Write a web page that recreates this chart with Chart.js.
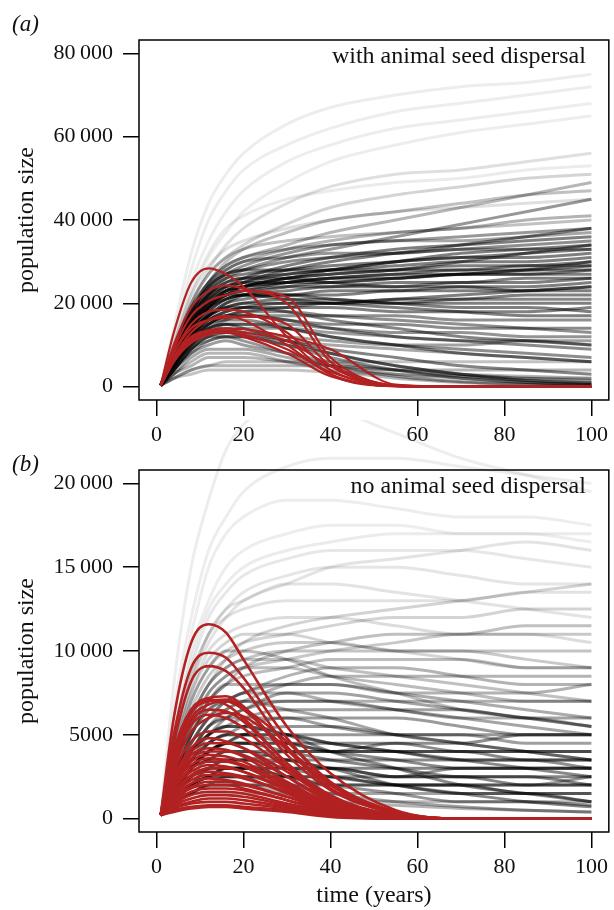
<!DOCTYPE html>
<html lang="en">
<head>
<meta charset="UTF-8">
<title>Population size over time</title>
<script src="https://cdn.jsdelivr.net/npm/chart.js@4.4.0/dist/chart.umd.min.js"></script>
<style>
  body { margin: 0; background: #fff; }
  #wrap { position: relative; width: 614px; height: 910px; }
  canvas { position: absolute; left: 0; }
  #chartA { top: 0; }
  #chartB { top: 420px; }
</style>
</head>
<body>
<div id="wrap">
  <canvas id="chartA" width="614" height="450"></canvas>
  <canvas id="chartB" width="614" height="490"></canvas>
</div>
<script>
// time points (years) shared by every simulated run
const years = [1, 4, 8, 12, 16, 20, 30, 40, 55, 70, 85, 100];

// population size in thousands
// (a) with animal seed dispersal: grey runs that persist / decline
const greyA = [
  [0.3,14,32,44,51,56,63,67,70,72,73,75],
  [0.3,12,28,40,47,52,58,62,66,68,70,72],
  [0.3,11,25,35,42,47,54,58,62,64,66,68],
  [0.3,10,22,31,37,42,49,54,58,61,63,65],
  [0.3,9,20,28,34,38,44,48,51,52,54,56],
  [0.3,10,23,32,38,41,45,47,49,50,52,53],
  [0.3,9,20,27,31,34,39,43,46,48,50,51],
  [0.3,8,18,25,30,33,37,40,42,44,46,47],
  [0.3,9,19,25,28,30,33,35,37,38,40,41],
  [0.3,8,17,23,27,29,32,34,35,36,37,38],
  [0.3,8,18,24,27,28,30,31,32,33,34,35],
  [0.3,7,15,21,24,26,29,31,33,34,35,36],
  [0.3,8,17,22,25,26,27,28,29,30,30,31],
  [0.3,7,15,20,23,24,26,27,28,29,29,30],
  [0.3,7,16,21,23,24,25,26,27,27,28,28],
  [0.3,6,14,19,22,23,25,26,27,28,28,29],
  [0.3,7,15,20,22,23,24,24,25,25,26,26],
  [0.3,6,13,18,21,22,23,24,24,25,25,26],
  [0.3,7,15,19,21,22,22,23,23,24,24,25],
  [0.3,6,13,17,20,21,22,22,23,23,23,24],
  [0.3,8,17,22,24,25,25,25,26,27,28,30],
  [0.3,6,14,19,23,25,28,30,32,34,36,38],
  [0.3,7,16,22,26,28,31,33,36,39,42,45],
  [0.3,8,18,25,29,31,34,37,40,43,46,49],
  [0.3,6,12,16,18,19,20,20,21,21,22,22],
  [0.3,5,11,15,17,18,19,20,20,21,21,21],
  [0.3,6,13,17,19,20,21,21,20,20,20,20],
  [0.3,5,12,16,18,19,19,19,18,18,18,19],
  [0.3,5,10,14,16,17,17,17,17,16,16,16],
  [0.3,6,12,16,17,17,16,15,15,14,14,14],
  [0.3,5,10,13,15,15,15,14,13,13,12,12],
  [0.3,4,9,12,13,14,14,13,12,11,11,10],
  [0.3,6,13,17,19,19,18,16,14,12,11,10],
  [0.3,5,11,14,15,15,14,12,10,9,8,7],
  [0.3,4,8,11,12,12,11,10,9,8,7,6],
  [0.3,5,10,13,14,13,11,9,7,5,4,3],
  [0.3,4,9,12,12,12,10,8,5,3,2,1.5],
  [0.3,4,8,10,11,10,8,6,4,2.5,1.5,1],
  [0.3,3,7,9,9,9,7,5,3,2,1,0.6],
  [0.3,5,11,14,15,14,11,8,5,3,1.5,0.8],
  [0.3,3,6,8,8,8,6,4,2,1,0.5,0.3],
  [0.3,4,9,11,12,11,8,5,2.5,1.2,0.6,0.3],
  [0.3,3,5,7,7,7,6,5,4,3,2.5,2],
  [0.3,2,4,5,6,6,6,6,6,6,6,6],
  [0.3,2,4,5,5,5,5,5,4,4,4,4],
  [0.3,6,14,19,22,24,26,27,28,30,32,34],
  [0.3,7,15,20,23,24,25,26,26,27,27,27],
  [0.3,5,12,17,20,22,24,25,26,27,27,28],
  [0.3,6,13,18,21,22,22,21,20,19,19,18],
  [0.3,7,16,22,25,26,26,25,24,24,23,23],
  [0.3,9,20,27,31,33,35,36,37,38,39,40],
  [0.3,10,22,29,33,35,38,40,42,43,44,45],
  [0.3,2,3,4,4,4,4,3.5,3,2.5,2,2],
  [0.3,6,12,15,16,16,14,12,10,8,7,6],
  [0.3,5,10,13,13,12,10,7,4,2,1,0.5],
  [0.3,8,18,24,27,28,28,28,28,28,29,29],
  [0.3,7,16,21,24,25,27,28,30,31,32,33],
  [0.3,8,17,23,26,27,28,29,30,31,31,32],
  [0.3,6,14,19,22,24,26,28,30,32,33,34],
  [0.3,7,15,20,22,22,21,20,19,18,17,17],
  [0.3,5,11,15,17,17,16,14,12,11,10,9],
  [0.3,6,13,17,19,20,20,20,21,22,23,24],
  [0.3,9,19,25,29,31,33,34,35,35,36,37],
  [0.3,4,9,12,13,13,12,11,10,10,11,11],
  [0.3,5,11,15,17,18,18,17,16,15,14,13],
  [0.3,8,18,24,28,30,31,32,32,33,33,33]
];
// (a) runs that went extinct
const redA = [
  [0.3,13,25,28.4,27,24,12,3,0.1,0,0,0],
  [0.3,10,19,23,24.3,23.5,20,6,0.2,0,0,0],
  [0.3,9,17,20.5,22,23,21.5,7,0.3,0,0,0],
  [0.3,8,14,16,16.5,16.8,15,5,0.2,0,0,0],
  [0.3,7,12,13.5,14,13.8,12,9,0.5,0,0,0],
  [0.3,6,11,13,13.5,13,11,5,0.3,0,0,0],
  [0.3,6,10.5,12.5,13,12.5,9,3.5,0.2,0,0,0],
  [0.3,8,15,18,18.5,18,13,4,0.2,0,0,0],
  [0.3,6.5,11.5,13,13,12,8,2.5,0.1,0,0,0],
  [0.3,7,13,16,17,16,10,3,0.1,0,0,0]
];

// (b) no animal seed dispersal
const greyB = [
  [0.2,8,15,19,22,23.5,25,24.5,23,21.5,20.5,19.5],
  [0.2,6,11,15,17,18,19,19,18.5,18,18,17.5],
  [0.2,5,10,13,15,16,17,17.5,17.5,17,17,16.5],
  [0.2,5,9,12,13.5,14.5,15.5,16,16,16,15.5,15],
  [0.2,4,8,11,12.5,13.5,14.5,15,15,14.5,14,14],
  [0.2,4.5,8.5,11,12,12.5,13,13,13,13,13.5,13.5],
  [0.2,4,7.5,10,11,11.5,12,12,11.5,11,11,10.5],
  [0.2,3.5,7,9,10,10.5,11,11.5,12,12,12.5,12.5],
  [0.2,3.5,6.5,8.5,9.5,10,10.5,10.5,10,10,9.5,9],
  [0.2,3,6,8,9,9.5,10,10,10,10,10,10],
  [0.2,3,5.5,7.5,8.5,9,9,8.5,8,7.5,7,7],
  [0.2,3,5.5,7,8,8.5,9,9.5,9.5,9.5,9,9],
  [0.2,2.5,5,7,8,8,8,8,7.5,7.5,7.5,8],
  [0.2,2.5,5,6.5,7,7.5,7.5,7,6.5,6,6,5.5],
  [0.2,2.5,4.5,6,6.5,7,7,7,7,7,7,7],
  [0.2,2,4,5.5,6,6,6,5.5,5,5,4.5,4.5],
  [0.2,2,4,5,5.5,6,6.5,6.5,6.5,6.5,6,6],
  [0.2,2,3.5,5,5.5,5.5,5,4.5,4,3.5,3.5,3],
  [0.2,2,3.5,4.5,5,5,5,5,5,5,5,5],
  [0.2,1.5,3,4,4.5,4.5,4.5,4,4,4,3.5,3.5],
  [0.2,1.5,3,4,4.5,4.5,4,3.5,3,2.5,2.5,2],
  [0.2,1.5,3,3.5,4,4,4,4,4,4,4,4],
  [0.2,1.5,2.5,3.5,3.5,3.5,3.5,3,3,3,3,3],
  [0.2,1.5,2.5,3,3.5,3.5,3,2.5,2,1.5,1.5,1],
  [0.2,1,2,3,3,3,3,3,2.5,2.5,2.5,2.5],
  [0.2,1,2,2.5,3,3,2.5,2,1.5,1,1,0.8],
  [0.2,1,2,2.5,2.5,2.5,2.5,2.5,2,2,2,2],
  [0.2,1,1.5,2,2,2,2,1.5,1.5,1.5,1.5,1.5],
  [0.2,1,1.5,2,2,2,1.5,1,0.8,0.6,0.5,0.4],
  [0.2,0.8,1.5,1.5,1.5,1.5,1.5,1,1,1,1,1],
  [0.2,3,6,8,9.5,10.5,11.5,12,12.5,13,13.5,14],
  [0.2,2.5,5,7,8,9,10,10.5,11,11,11.5,11.5],
  [0.2,2,4,5.5,6.5,7,8,8.5,8.5,8.5,8.5,8.5],
  [0.2,2,4,5,6,6.5,7.5,7.5,7,6.5,6,5.5],
  [0.2,1.5,3,4.5,5,5.5,6,6,6,5.5,5,5],
  [0.2,1.5,3,4,4.5,5,5.5,5.5,5,4.5,4,3.5],
  [0.2,3.5,7,9,10,10,9.5,8.5,7.5,6.5,6,5.5],
  [0.2,4,7.5,9.5,10.5,11,11,10.5,10,9.5,9,9],
  [0.2,2.5,4.5,6,7,7.5,8,8,7.5,7,6.5,6],
  [0.2,1,2,2.5,3,3,3.5,3.5,3.5,3.5,3.5,3.5],
  [0.2,1,2,2.5,2.5,2.5,2,1.5,1,0.7,0.5,0.4],
  [0.2,0.8,1.5,2,2,2,2,2,2,2,2,2.5],
  [0.2,2,4,5,5.5,5.5,5,4,3,2,1.5,1],
  [0.2,1.5,3,3.5,4,4,3.5,3,2,1.5,1,0.7],
  [0.2,5,9.5,12.5,14,15,16,16.5,17,17,17,17],
  [0.2,4.5,8.5,11,12.5,13,14,14,13.5,13,12.5,12],
  [0.2,6.5,12,16,18,19.5,21,21.5,21.5,21,20.5,20],
  [0.2,3,6,8,9,9.5,9.5,9,8.5,8,7.5,7],
  [0.2,1.5,3,4,4.5,4.5,4.5,4.5,4.5,4,4,4],
  [0.2,1,2,2.5,3,3,3,3,2.5,2.5,2,2],
  [0.2,2,4,5.5,6,6.5,7,7,6.5,6,5.5,5],
  [0.2,2.5,4.5,6,7,7.5,8.5,9,9,8.5,8,8],
  [0.2,1.5,3,4,4.5,5,5,4.5,4,3.5,3,2.5],
  [0.2,1,2,3,3.5,3.5,4,4,4.5,4.5,5,5],
  [0.2,1.5,2.5,3,3,3,2.5,2,2,2,1.5,1.5],
  [0.2,3,5.5,7.5,8.5,9,9.5,10,10.5,11,11,11],
  [0.2,2,3.5,4.5,5,5,4.5,4,3.5,3,3,3],
  [0.2,1,1.5,2,2.5,2.5,2.5,2.5,2.5,3,3,3],
  [0.2,2.5,5,6.5,7,7,6.5,6,5,4.5,4,3.5],
  [0.2,4,8,10.5,12,13,14,15,15.5,16,16.5,16]
];
const redB = [
  [0.2,6,10.5,11.6,11.1,9.5,5.5,2.7,0.5,0,0,0],
  [0.2,5,9,9.9,9.6,8.4,4.8,2.2,0.4,0,0,0],
  [0.2,4.5,8.2,9.1,8.8,7.8,4.3,2,0.3,0,0,0],
  [0.2,4,6.5,7.2,7.3,6.7,3.8,1.7,0.3,0,0,0],
  [0.2,4,6.5,7.1,6.8,6,3.3,1.4,0.2,0,0,0],
  [0.2,3.5,6,6.8,7,6.5,4.1,1.8,0.3,0,0,0],
  [0.2,3.4,5.8,6.5,6.4,5.8,3.3,1.3,0.2,0,0,0],
  [0.2,3.3,5.6,6.2,6,5.4,3.1,1.2,0.2,0,0,0],
  [0.2,3.6,6.3,7,7.1,6.6,4.6,2.1,0.4,0,0,0],
  [0.2,3,5.2,6,6.3,6.1,4.2,2,0.4,0,0,0],
  [0.2,2.8,4.6,5.2,5.2,4.8,3,1.3,0.2,0,0,0],
  [0.2,2.5,4.2,4.8,4.6,4.2,2.5,1,0.2,0,0,0],
  [0.2,2.5,4,4.5,4.5,4.2,2.8,1.2,0.2,0,0,0],
  [0.2,2.3,3.8,4.2,4.1,3.7,2.2,0.9,0.1,0,0,0],
  [0.2,2.2,3.6,4,4,3.8,2.5,1.1,0.2,0,0,0],
  [0.2,2,3.4,3.8,3.7,3.4,2,0.8,0.1,0,0,0],
  [0.2,2,3.2,3.6,3.5,3.2,2.1,0.9,0.1,0,0,0],
  [0.2,1.8,3,3.4,3.4,3.1,1.9,0.8,0.1,0,0,0],
  [0.2,1.8,2.8,3.2,3.1,2.8,1.7,0.7,0.1,0,0,0],
  [0.2,1.6,2.6,3,3,2.8,1.8,0.8,0.1,0,0,0],
  [0.2,1.5,2.5,2.8,2.7,2.5,1.5,0.6,0.1,0,0,0],
  [0.2,1.4,2.3,2.6,2.6,2.4,1.6,0.7,0.1,0,0,0],
  [0.2,1.3,2.1,2.4,2.3,2.1,1.3,0.5,0.1,0,0,0],
  [0.2,1.2,1.9,2.2,2.2,2,1.3,0.6,0.1,0,0,0],
  [0.2,1.1,1.8,2,2,1.8,1.1,0.4,0,0,0,0],
  [0.2,1,1.6,1.8,1.8,1.7,1.1,0.5,0.1,0,0,0],
  [0.2,0.9,1.4,1.6,1.6,1.5,0.9,0.4,0,0,0,0],
  [0.2,0.8,1.2,1.4,1.4,1.3,0.8,0.3,0,0,0,0],
  [0.2,0.7,1,1.2,1.2,1.1,0.7,0.3,0,0,0,0],
  [0.2,0.6,0.9,1,1,0.9,0.6,0.2,0,0,0,0],
  [0.2,0.5,0.7,0.8,0.8,0.7,0.5,0.2,0,0,0,0],
  [0.2,0.4,0.6,0.7,0.7,0.6,0.4,0.1,0,0,0,0]
];

const xTicks = [0, 20, 40, 60, 80, 100];
const yTicksA = [0, 20, 40, 60, 80];
const yLabelsA = ['0', '20\u2009000', '40\u2009000', '60\u2009000', '80\u2009000'];
const yTicksB = [0, 5, 10, 15, 20];
const yLabelsB = ['0', '5000', '10\u2009000', '15\u2009000', '20\u2009000'];

const serif = "'Liberation Serif', 'Times New Roman', serif";
const red = '#b22222';

// shade each grey run by how crowded its neighbourhood is, so the
// bundle reads like the dense overplotting of the original
function crowdAlpha(rows, band, k, lo, hi) {
  return rows.map((r, i) => {
    let c = 0;
    rows.forEach((q, m) => {
      if (m === i) return;
      for (let j = 2; j < r.length; j++) if (Math.abs(q[j] - r[j]) < band) c++;
    });
    c /= (r.length - 2);
    return Math.min(hi, Math.max(lo, k * c));
  });
}

function runs(rows, colors, width, order, clip) {
  return rows.map((r, i) => ({
    data: years.map((t, j) => ({ x: t, y: r[j] })),
    borderColor: Array.isArray(colors) ? colors[i] : colors,
    borderWidth: width,
    pointRadius: 0,
    cubicInterpolationMode: 'monotone',
    order: order,
    clip: clip
  }));
}

function greys(rows, band, k, lo, hi) {
  return crowdAlpha(rows, band, k, lo, hi).map(a => 'rgba(0,0,0,' + a.toFixed(3) + ')');
}

// full box, inner note and panel letter
const framePlugin = {
  id: 'frame',
  afterDatasetsDraw(chart, args, opts) {
    const ctx = chart.ctx, a = chart.chartArea;
    ctx.save();
    ctx.strokeStyle = '#000';
    ctx.lineWidth = 1.5;
    ctx.strokeRect(a.left, a.top, a.right - a.left, a.bottom - a.top);
    ctx.fillStyle = '#111';
    ctx.font = '24px ' + serif;
    ctx.textAlign = 'right';
    ctx.textBaseline = 'middle';
    ctx.fillText(opts.note, a.right - 23, a.top + 17);
    ctx.font = 'italic 23px ' + serif;
    ctx.textAlign = 'left';
    ctx.fillText(opts.tag, 12, opts.tagY);
    ctx.restore();
  }
};

function scales(yMin, yMax, yTicks, yLabels, xHeight, showX) {
  const font = { family: serif, size: 22 };
  const tfont = { family: serif, size: 24 };
  return {
    x: {
      type: 'linear', min: -4, max: 104,
      afterBuildTicks: s => { s.ticks = xTicks.map(v => ({ value: v })); },
      afterFit: s => { s.height = xHeight; },
      grid: { drawOnChartArea: false, tickLength: 16, color: '#000', lineWidth: 1.5 },
      border: { display: false },
      ticks: { font: font, color: '#111', padding: 6, maxRotation: 0, autoSkip: false, callback: v => String(v) },
      title: { display: showX, text: 'time (years)', font: tfont, color: '#111', padding: 0 }
    },
    y: {
      type: 'linear', min: yMin, max: yMax,
      afterBuildTicks: s => { s.ticks = yTicks.map(v => ({ value: v })); },
      afterFit: s => { s.width = 139; },
      grid: { drawOnChartArea: false, tickLength: 16, color: '#000', lineWidth: 1.5 },
      border: { display: false },
      ticks: { font: font, color: '#111', padding: 10, autoSkip: false, callback: v => yLabels[yTicks.indexOf(v)] },
      title: { display: true, text: 'population size', font: tfont, color: '#111', padding: { top: 12, bottom: 0 } }
    }
  };
}

function makeChart(id, datasets, sc, top, note, tag, tagY) {
  return new Chart(document.getElementById(id), {
    type: 'line',
    data: { datasets: datasets },
    options: {
      responsive: false,
      animation: false,
      devicePixelRatio: 1,
      layout: { padding: { left: 0, right: 2, top: top, bottom: 0 } },
      scales: sc,
      plugins: {
        legend: { display: false },
        tooltip: { enabled: false },
        frame: { note: note, tag: tag, tagY: tagY }
      }
    },
    plugins: [framePlugin]
  });
}

makeChart('chartA',
  runs(redA, red, 2.2, 0, true).concat(runs(greyA, greys(greyA, 4, 0.035, 0.07, 0.5), 3, 1, true)),
  scales(-3.2, 83.2, yTicksA, yLabelsA, 50, false),
  40, 'with animal seed dispersal', '(a)', 25);

makeChart('chartB',
  runs(redB, red, 2.6, 0, true).concat(runs(greyB, greys(greyB, 1.5, 0.03, 0.07, 0.48), 3, 1, false)),
  scales(-0.8, 20.8, yTicksB, yLabelsB, 78, true),
  50, 'no animal seed dispersal', '(b)', 45);
</script>
</body>
</html>
